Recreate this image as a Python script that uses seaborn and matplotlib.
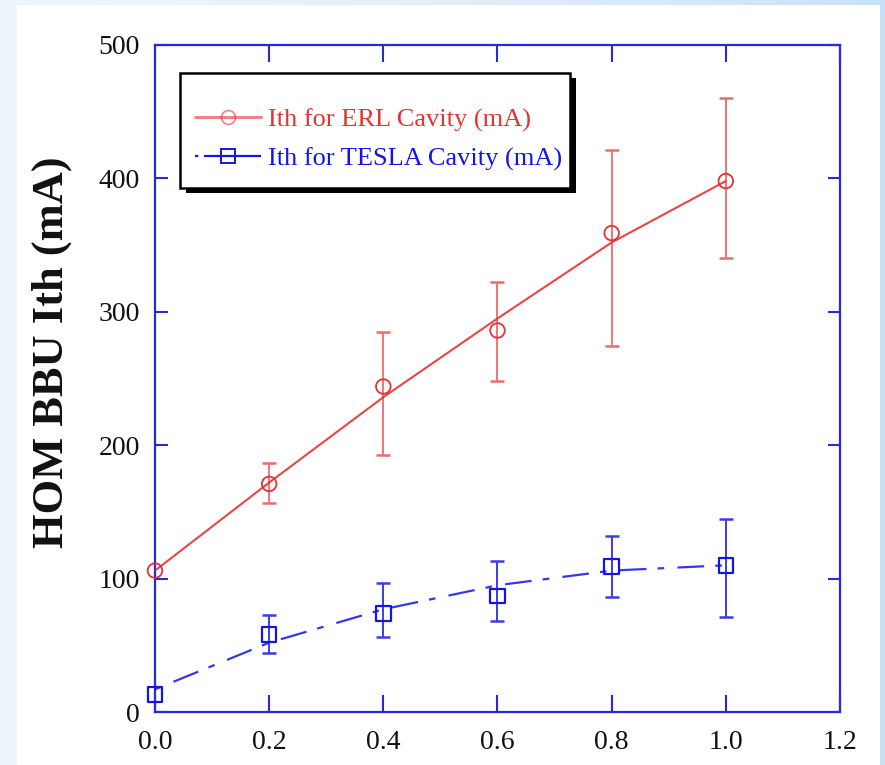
import numpy as np
import pandas as pd
import matplotlib
matplotlib.use("Agg")
import matplotlib.pyplot as plt
from matplotlib.lines import Line2D
from matplotlib.patches import Rectangle
import seaborn as sns

# Damping / coupling factor on the x axis
x_vals = [0.0, 0.2, 0.4, 0.6, 0.8, 1.0]

# ERL cavity threshold current (mA) with asymmetric errors
erl_ith = [106, 171, 244, 286, 359, 398]
erl_err_lo = [0, 14, 51, 38, 85, 58]
erl_err_hi = [0, 16, 41, 36, 62, 62]
erl_fit = [106, 172, 236, 295, 352, 398]

# TESLA cavity threshold current (mA) with asymmetric errors
tesla_ith = [13, 58, 74, 87, 109, 110]
tesla_err_lo = [0, 14, 18, 19, 23, 39]
tesla_err_hi = [0, 15, 23, 26, 23, 35]
tesla_fit = [17, 52, 77, 95, 106, 110]

x_ticks = [0.0, 0.2, 0.4, 0.6, 0.8, 1.0, 1.2]
y_ticks = [0, 100, 200, 300, 400, 500]

RED = "#e63232"
RED_LIGHT = "#ee6a6a"
BLUE = "#1414e6"
AXIS_BLUE = "#2828e0"

sns.set_style("ticks")
plt.rcParams["font.family"] = ["Liberation Serif", "DejaVu Serif"]

W, H = 885, 765
fig = plt.figure(figsize=(W / 100, H / 100), dpi=100)

# page background: pale blue gradient with a white sheet on top
bg = fig.add_axes([0, 0, 1, 1], zorder=-10)
t = np.linspace(0, 1, 256)
left_c = np.array([0.935, 0.960, 0.992])
right_c = np.array([0.790, 0.885, 0.970])
grad = left_c[None, :] * (1 - t[:, None] ** 1.5) + right_c[None, :] * (t[:, None] ** 1.5)
bg.imshow(grad[None, :, :], aspect="auto", extent=[0, 1, 0, 1])
bg.add_patch(Rectangle((17 / W, 0), (880 - 17) / W, (H - 5) / H,
                       transform=bg.transAxes, facecolor="white", edgecolor="none"))
bg.set_axis_off()

ax = fig.add_axes([155 / W, 1 - 712 / H, (840 - 155) / W, (712 - 45) / H])
ax.set_facecolor("white")

df = pd.DataFrame({
    "x": x_vals,
    "erl": erl_ith, "erl_fit": erl_fit,
    "erl_lo": erl_err_lo, "erl_hi": erl_err_hi,
    "tesla": tesla_ith, "tesla_fit": tesla_fit,
    "tesla_lo": tesla_err_lo, "tesla_hi": tesla_err_hi,
})

# fitted curves
sns.lineplot(data=df, x="x", y="erl_fit", ax=ax, color=RED, linewidth=1.5,
             alpha=0.9, zorder=3)
sns.lineplot(data=df, x="x", y="tesla_fit", ax=ax, color=BLUE, linewidth=1.6,
             alpha=0.85, zorder=3, linestyle=(0, (3, 6, 12, 5)))

# error bars (only where an uncertainty was measured)
e = df[(df.erl_lo > 0) | (df.erl_hi > 0)]
ax.errorbar(e.x, e.erl, yerr=[e.erl_lo, e.erl_hi], fmt="none",
            ecolor=RED_LIGHT, elinewidth=1.3, capsize=5, capthick=1.8, zorder=2)
e = df[(df.tesla_lo > 0) | (df.tesla_hi > 0)]
ax.errorbar(e.x, e.tesla, yerr=[e.tesla_lo, e.tesla_hi], fmt="none",
            ecolor="#3c3ce6", elinewidth=1.4, capsize=5, capthick=1.8, zorder=2)

# measured points
sns.scatterplot(data=df, x="x", y="erl", ax=ax, marker="o", s=110,
                facecolor="none", edgecolor=RED, linewidth=1.3, zorder=4,
                clip_on=False)
sns.scatterplot(data=df, x="x", y="tesla", ax=ax, marker="s", s=110,
                facecolor="none", edgecolor=BLUE, linewidth=1.6, zorder=4,
                clip_on=False)

ax.set_xlim(0, 1.2)
ax.set_ylim(0, 500)
ax.set_xticks(x_ticks)
ax.set_xticklabels([f"{v:.1f}" for v in x_ticks])
ax.set_yticks(y_ticks)
ax.set_yticklabels([str(v) for v in y_ticks])

for sp in ax.spines.values():
    sp.set_visible(True)
    sp.set_color(AXIS_BLUE)
    sp.set_linewidth(1.6)

ax.tick_params(axis="x", direction="in", top=True, bottom=True, length=12,
               width=1.5, color=AXIS_BLUE, labelsize=20, pad=13,
               labelcolor="#111111")
ax.tick_params(axis="y", direction="in", left=True, right=True, length=9,
               width=1.5, color=AXIS_BLUE, labelsize=20, pad=11,
               labelcolor="#111111")

ax.set_xlabel("")
ax.set_ylabel("HOM BBU Ith (mA)", fontsize=32, fontweight="bold",
              color="#111111")
ax.yaxis.set_label_coords((72 - 155) / 685, (712 - 352) / 667)

# legend box with a hard drop shadow
box_x0, box_y0, box_x1, box_y1 = 180, 73, 570, 188
ax.add_patch(Rectangle(((box_x0 + 6) / W, 1 - (box_y1 + 5) / H),
                       (box_x1 - box_x0) / W, (box_y1 - box_y0) / H,
                       transform=fig.transFigure, facecolor="black",
                       edgecolor="none", zorder=6, clip_on=False))
ax.add_patch(Rectangle((box_x0 / W, 1 - box_y1 / H),
                       (box_x1 - box_x0) / W, (box_y1 - box_y0) / H,
                       transform=fig.transFigure, facecolor="white",
                       edgecolor="black", linewidth=1.8, zorder=6.5,
                       clip_on=False))

handles = [
    Line2D([], [], color=RED, alpha=0.6, linewidth=2.2, marker="o",
           markersize=10, markerfacecolor="none", markeredgecolor=RED,
           markeredgewidth=1.2),
    Line2D([], [], color=BLUE, linewidth=1.6, marker="s", markersize=10,
           markerfacecolor="none", markeredgecolor=BLUE, markeredgewidth=1.4,
           linestyle=(0, (1.5, 2.5, 40, 1))),
]
leg = ax.legend(handles, ["Ith for ERL Cavity (mA)", "Ith for TESLA Cavity (mA)"],
                loc="upper left",
                bbox_to_anchor=(195 / W, 1 - 108 / H),
                bbox_transform=fig.transFigure,
                borderaxespad=0, borderpad=0, fontsize=19, frameon=False,
                handlelength=2.5, handletextpad=0.25, labelspacing=0.58)
leg.set_zorder(7)
for txt, c in zip(leg.get_texts(), [RED, BLUE]):
    txt.set_color(c)

fig.savefig("out.png", dpi=100)
